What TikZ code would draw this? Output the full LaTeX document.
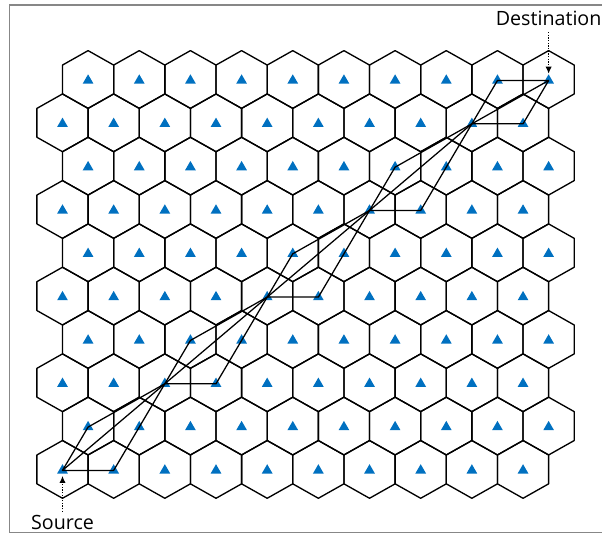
\documentclass[tikz,border=0pt]{standalone}
\usepackage{fontspec}
\setmainfont{Open Sans}
\usepackage{xcolor}
\usepackage{tikz}
\usetikzlibrary{shapes.geometric, arrows.meta}

\definecolor{siteblue}{RGB}{0,112,192}
\definecolor{framegray}{RGB}{135,135,135}

\begin{document}
\begin{tikzpicture}[x=0.025cm, y=0.025cm,
  cell/.style={line width=0.95pt, black, line join=round},
  site/.style={regular polygon, regular polygon sides=3, fill=siteblue,
               inner sep=0pt, minimum size=0.31cm},
  route/.style={line width=0.9pt, black, line join=round},
  tag/.style={font=\fontsize{14}{16}\selectfont, inner sep=1pt},
  pointer/.style={densely dotted, line width=0.9pt, -{Latex[length=5pt,width=4.5pt]}}
]

\useasboundingbox (0,0) rectangle (602,537);

%---------------- Frame ----------------%
\draw[framegray, line width=0.9pt] (615,4.3) -- (9.5,4.3) -- (9.5,532) -- (615,532);

%---------------- Cells ----------------%
\foreach \j in {0,...,9}{
  \foreach \i in {0,...,9}{
    \pgfmathsetmacro{\cx}{62.5+51.17*\i+25.585*mod(\j,2)}
    \pgfmathsetmacro{\cy}{67.6+43.32*\j}
    \draw[cell] (\cx,\cy+28.88) -- ++(25.585,-14.44) -- ++(0,-28.88)
          -- ++(-25.585,-14.44) -- ++(-25.585,14.44) -- ++(0,28.88) -- cycle;
    \node[site] (t-\i-\j) at (\cx,\cy-1) {};
  }
}

%---------------- Route ----------------%
\foreach \k in {0,...,3}{
  \pgfmathtruncatemacro{\a}{2*\k}
  \pgfmathtruncatemacro{\ar}{2*\k+1}
  \pgfmathtruncatemacro{\bq}{2*\k+2}
  \draw[route] (t-\a-\a.center) -- (t-\ar-\a.center) -- (t-\bq-\bq.center)
        -- (t-\a-\ar.center) -- cycle;
  \draw[route] (t-\a-\a.center) -- (t-\bq-\bq.center);
}
\draw[route] (t-8-8.center) -- (t-9-8.center) -- (t-9-9.center) -- (t-8-9.center) -- cycle;
\draw[route] (t-8-8.center) -- (t-9-9.center);

%---------------- Labels ----------------%
\node[tag, anchor=base] (dstlbl) at (t-9-9 |- 0,511) {Destination};
\node[tag, anchor=base] (srclbl) at (t-0-0 |- 0,7.7) {Source};

\draw[pointer, shorten <=3pt] (dstlbl.south) -- (t-9-9.north);
\draw[pointer, shorten <=1pt, shorten >=1.5pt] (srclbl.north) -- (t-0-0.south);

\end{tikzpicture}
\end{document}
